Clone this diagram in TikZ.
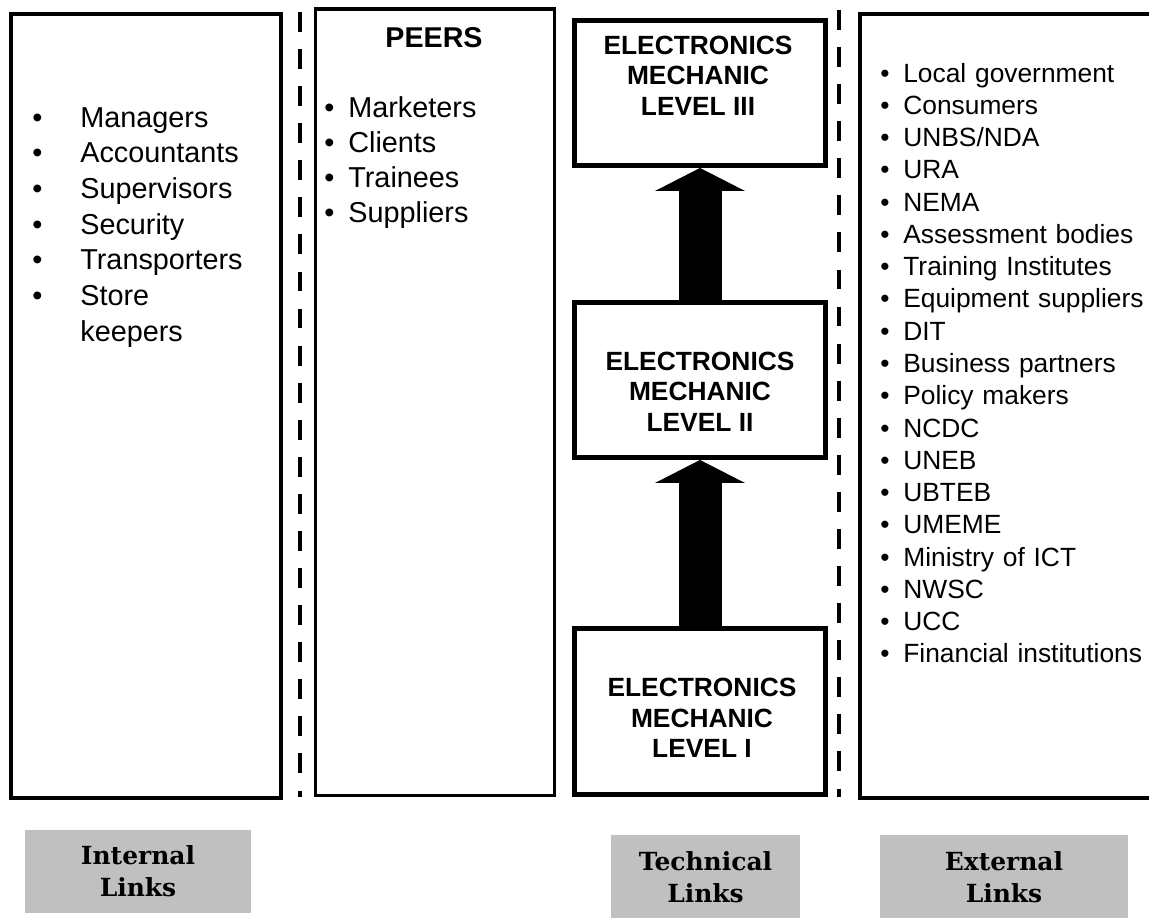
\documentclass[tikz,border=0pt]{standalone}
\usepackage{fontspec}
\setmainfont{Liberation Sans}
\newfontfamily\linkfont{DejaVu Serif}
\usetikzlibrary{arrows.meta}
\definecolor{linkgrey}{RGB}{192,192,192}
\newcommand{\bul}[2]{\makebox[#1][l]{\textbullet}#2}

\begin{document}
\begin{tikzpicture}[x=0.02cm, y=-0.02cm,
  column/.style={draw, line width=2.2pt, inner sep=0pt},
  levelbox/.style={draw, line width=2.8pt, inner sep=0pt, minimum width=5.02cm},
  leveltext/.style={align=center, inner sep=0pt, font=\bfseries\fontsize{15}{17.3}\selectfont},
  listtext/.style={anchor=base west, inner sep=0pt, align=left},
  divider/.style={line width=2.6pt, dash pattern=on 11.3pt off 9.8pt},
  linkbox/.style={fill=linkgrey, inner sep=0pt, align=center, font=\linkfont\bfseries\fontsize{14.2}{18.1}\selectfont},
  uparrow/.style={line width=0.86cm, -{Triangle[width=1.78cm, length=0.46cm]}}]

\useasboundingbox (0,0) rectangle (1149,917);
\clip (0,0) rectangle (1149,917);

% columns
\node[column, minimum width=5.39cm, minimum height=15.68cm] (internal) at (146,406) {};
\node[column, line width=1.9pt, minimum width=4.77cm, minimum height=15.73cm] (peers) at (435,402) {};
\node[column, minimum width=6.76cm, minimum height=15.68cm] (external) at (1029,406) {};

% separators
\coordinate (sepa1) at (300,12);
\coordinate (sepa2) at (300,797);
\coordinate (sepb1) at (839,10);
\coordinate (sepb2) at (839,797);
\draw[divider] (sepa1) -- (sepa2);
\draw[divider] (sepb1) -- (sepb2);

% lists
\node[listtext, text width=4cm, font=\fontsize{16.4}{20.3}\selectfont] (internallist) at (32,127)
  {\bul{0.96cm}{Managers}\\ \bul{0.96cm}{Accountants}\\ \bul{0.96cm}{Supervisors}\\
   \bul{0.96cm}{Security}\\ \bul{0.96cm}{Transporters}\\ \bul{0.96cm}{Store}\\
   \makebox[0.96cm]{}keepers};

\node[font=\bfseries\fontsize{16.3}{19}\selectfont, anchor=base, inner sep=0pt] (peerstitle) at (434,47) {PEERS};
\node[listtext, text width=4cm, font=\fontsize{16.4}{20.1}\selectfont] (peerlist) at (324,117)
  {\bul{0.48cm}{Marketers}\\ \bul{0.48cm}{Clients}\\ \bul{0.48cm}{Trainees}\\ \bul{0.48cm}{Suppliers}};

\node[listtext, text width=6cm, font=\fontsize{15}{18.37}\selectfont] (externallist) at (880,82)
  {\bul{0.46cm}{Local government}\\ \bul{0.46cm}{Consumers}\\ \bul{0.46cm}{UNBS/NDA}\\
   \bul{0.46cm}{URA}\\ \bul{0.46cm}{NEMA}\\ \bul{0.46cm}{Assessment bodies}\\
   \bul{0.46cm}{Training Institutes}\\ \bul{0.46cm}{Equipment suppliers}\\ \bul{0.46cm}{DIT}\\
   \bul{0.46cm}{Business partners}\\ \bul{0.46cm}{Policy makers}\\ \bul{0.46cm}{NCDC}\\
   \bul{0.46cm}{UNEB}\\ \bul{0.46cm}{UBTEB}\\ \bul{0.46cm}{UMEME}\\
   \bul{0.46cm}{Ministry of ICT}\\ \bul{0.46cm}{NWSC}\\ \bul{0.46cm}{UCC}\\
   \bul{0.46cm}{Financial institutions}};

% levels
\node[levelbox, minimum height=2.9cm] (lvl3) at (700,93) {};
\node[levelbox, minimum height=3.1cm] (lvl2) at (700,380) {};
\node[levelbox, minimum height=3.32cm] (lvl1) at (700,711.5) {};
\node[leveltext] (lvl3text) at (698,75.5) {ELECTRONICS\\MECHANIC\\LEVEL III};
\node[leveltext] (lvl2text) at (700,391.5) {ELECTRONICS\\MECHANIC\\LEVEL II};
\node[leveltext] (lvl1text) at (702,718) {ELECTRONICS\\MECHANIC\\LEVEL I};

\draw[uparrow] (lvl1) -- (lvl2);
\draw[uparrow] (lvl2) -- (lvl3);

% link labels
\node[linkbox, minimum width=4.52cm, minimum height=1.66cm] (internallinks) at (138,871.5) {Internal\\Links};
\node[linkbox, minimum width=3.78cm, minimum height=1.7cm] (technicallinks) at (705.5,877.5) {Technical\\Links};
\node[linkbox, minimum width=4.96cm, minimum height=1.7cm] (externallinks) at (1004,877.5) {External\\Links};
\end{tikzpicture}
\end{document}
